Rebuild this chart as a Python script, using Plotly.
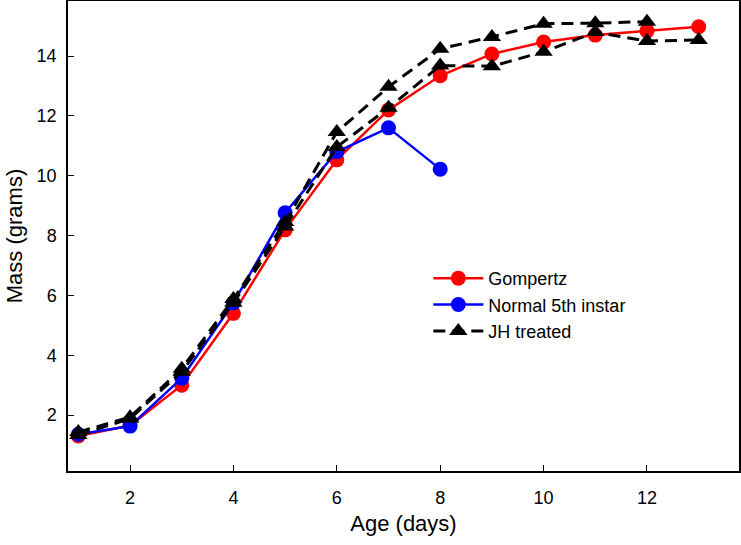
import plotly.graph_objects as go

age_gomp = [1, 2, 3, 4, 5, 6, 7, 8, 9, 10, 11, 12, 13]
mass_gomp = [1.3, 1.65, 3.0, 5.4, 8.19, 10.53, 12.2, 13.34, 14.07, 14.47, 14.7, 14.84, 14.98]

age_normal = [1, 2, 3, 4, 5, 6, 7, 8]
mass_normal = [1.36, 1.63, 3.23, 5.75, 8.76, 10.8, 11.6, 10.22]

age_jh_a = [1, 2, 3, 4, 5, 6, 7, 8, 9, 10, 11, 12]
mass_jh_a = [1.43, 1.93, 3.55, 5.88, 8.45, 11.46, 12.97, 14.24, 14.64, 15.08, 15.1, 15.15]

age_jh_b = [1, 2, 3, 4, 5, 6, 7, 8, 9, 10, 11, 12, 13]
mass_jh_b = [1.33, 1.88, 3.45, 5.75, 8.3, 10.96, 12.27, 13.68, 13.66, 14.14, 14.8, 14.5, 14.54]

x_ticks = [2, 4, 6, 8, 10, 12]
y_ticks = [2, 4, 6, 8, 10, 12, 14]

FONT = "Liberation Sans, Arial, sans-serif"

fig = go.Figure()
fig.add_trace(go.Scatter(x=age_gomp, y=mass_gomp, mode="lines+markers", name="Gompertz",
                         line=dict(color="#ff0000", width=2.5),
                         marker=dict(symbol="circle", size=15, color="#ff0000")))
fig.add_trace(go.Scatter(x=age_normal, y=mass_normal, mode="lines+markers", name="Normal 5th instar",
                         line=dict(color="#0000ff", width=2.5),
                         marker=dict(symbol="circle", size=15, color="#0000ff")))
fig.add_trace(go.Scatter(x=age_jh_b, y=mass_jh_b, mode="lines+markers", name="JH treated",
                         showlegend=False,
                         line=dict(color="black", width=3, dash="12px,7px"),
                         marker=dict(symbol="triangle-up", size=16, color="black")))
fig.add_trace(go.Scatter(x=age_jh_a, y=mass_jh_a, mode="lines+markers", name="JH treated",
                         line=dict(color="black", width=3, dash="12px,7px"),
                         marker=dict(symbol="triangle-up", size=16, color="black")))

axis_common = dict(showgrid=False, zeroline=False, showline=True, linecolor="black", linewidth=1.5,
                   mirror=True, ticks="inside", ticklen=6, tickwidth=1, tickcolor="black",
                   automargin=False,
                   tickfont=dict(family=FONT, size=18, color="black"))

fig.update_xaxes(range=[0.8, 13.78], tickvals=x_ticks, ticktext=[str(v) for v in x_ticks],
                 title=dict(text="Age (days)", font=dict(family=FONT, size=22, color="black"),
                            standoff=8),
                 ticklabelstandoff=10, **axis_common)
fig.update_yaxes(range=[0.13, 15.84], tickvals=y_ticks, ticktext=[str(v) for v in y_ticks],
                 title=dict(text="Mass (grams)", font=dict(family=FONT, size=22, color="black"),
                            standoff=8),
                 ticklabelstandoff=6, **axis_common)

fig.update_layout(
    width=741, height=545,
    margin=dict(l=68, r=2, t=1, b=74),
    plot_bgcolor="white", paper_bgcolor="white",
    showlegend=True,
    legend=dict(x=0.537, y=0.449, xanchor="left", yanchor="top",
                font=dict(family=FONT, size=18, color="black"),
                bgcolor="rgba(0,0,0,0)", tracegroupgap=0, itemwidth=50),
)

fig.write_html("out.html", config={"displayModeBar": False},
               post_script="document.body.style.margin='0px';")
